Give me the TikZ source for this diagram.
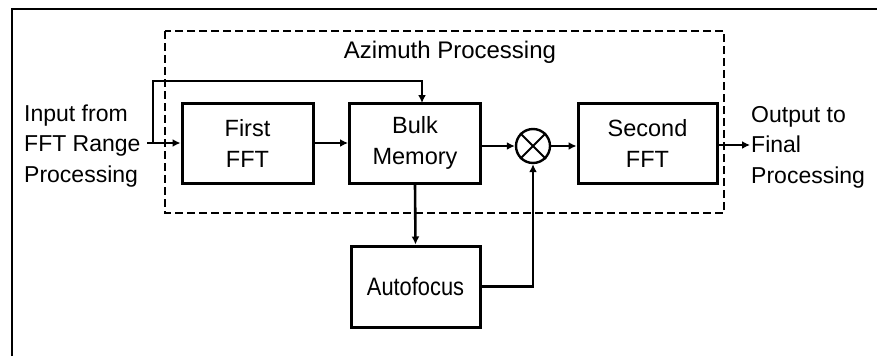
\documentclass[tikz,border=0pt]{standalone}
\usepackage{fontspec}
\setmainfont{Liberation Sans}
\usetikzlibrary{arrows.meta}
\begin{document}
\begin{tikzpicture}[x=1pt,y=-1pt,
  blk/.style={draw,line width=3pt,minimum width=#1,minimum height=80pt,inner sep=0pt,align=center,font=\fontsize{23.5}{31}\selectfont},
  blk/.default=131pt,
  lbl/.style={align=left,inner sep=0pt,font=\fontsize{23}{30.5}\selectfont},
  wire/.style={line width=2.6pt},
  arr/.style={wire,-{Latex[length=8pt,width=8pt]}}]
\useasboundingbox (0,0) rectangle (877,356);
% outer frame
\draw[line width=2.4pt] (12,356) -- (12,9) -- (877,9);
% dashed azimuth region
\draw[line width=2.4pt,dash pattern=on 8pt off 4pt] (165,31) rectangle (724,213);
\node[inner sep=0pt,font=\fontsize{24}{28}\selectfont] (az) at (450,52) {Azimuth Processing};
% blocks
\node[blk] (f1) at (247.5,143) {First\\FFT};
\node[blk] (bm) at (415,143) {Bulk\\Memory};
\node[blk=139pt] (f2) at (647.5,143) {Second\\FFT};
\node[blk=129pt,minimum height=81pt,font=\fontsize{21}{26}\selectfont] (af) at (415.5,286.5) {\scalebox{1.04}[1.2]{Autofocus}};
\node[draw,circle,line width=2.4pt,minimum size=34pt,inner sep=0pt] (mx) at (533,146) {};
\draw[line width=2pt] (mx.45) -- (mx.225) (mx.135) -- (mx.315);
% labels
\node[lbl,anchor=west] (in) at (24,146) {Input from\\FFT Range\\Processing};
\node[lbl,anchor=west] (out) at (751,147) {Output to\\Final\\Processing};
% connectors
\coordinate (src) at (147,143);
\coordinate (br) at (153,143);
\draw[arr] (src) -- (f1.west |- src);
\draw[arr] (br) -- (153,81) -- (422,81) -- (422,103);
\draw[arr] (f1.east) -- (bm.west);
\draw[arr] (bm.east |- mx) -- (mx.west);
\draw[arr] (mx.east) -- (f2.west |- mx);
\draw[arr] (bm.south) -- (af.north);
\draw[arr] (af.east) -- (mx.south |- af.east) -- (mx.south);
\draw[arr] (f2.east |- 0,145) -- (750,145);
\end{tikzpicture}
\end{document}
